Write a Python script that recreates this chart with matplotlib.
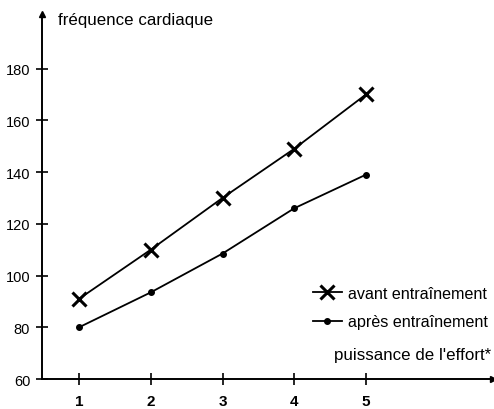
import matplotlib.pyplot as plt

plt.rcParams['font.family'] = ['Liberation Sans', 'DejaVu Sans']

effort = [1, 2, 3, 4, 5]
avant = [91, 110, 130, 149, 170]
apres = [80, 93.5, 108.5, 126, 139]
y_ticks = [60, 80, 100, 120, 140, 160, 180]


def main():
    fig = plt.figure(figsize=(4.94, 4.10), dpi=100)
    ax = fig.add_axes([0.085, 0.073, 0.913, 0.890])
    ax.set_xlim(0.484, 6.77)
    ax.set_ylim(60, 201)

    ax.plot(effort, avant, color='black', lw=1.3, marker='x', ms=10, mew=2.2,
            label='avant entraînement')
    ax.plot(effort, apres, color='black', lw=1.3, marker='o', ms=4,
            label='après entraînement')

    for side in ['top', 'right']:
        ax.spines[side].set_visible(False)
    for side in ['left', 'bottom']:
        ax.spines[side].set_linewidth(1.4)

    # arrow heads on the axes
    ax.plot(0, 1, marker='^', ms=5, color='black', transform=ax.transAxes, clip_on=False)
    ax.plot(1, 0, marker='>', ms=5, color='black', transform=ax.transAxes, clip_on=False)

    ax.set_xticks(effort)
    ax.set_xticklabels([str(v) for v in effort], fontweight='bold', fontsize=11)
    ax.set_yticks(y_ticks)
    ax.set_yticklabels([str(v) for v in y_ticks], fontsize=10.5)
    ax.tick_params(direction='inout', length=9, width=1.2, pad=4)
    ax.tick_params(axis='x', pad=6)

    ax.text(0.035, 0.985, 'fréquence cardiaque', transform=ax.transAxes,
            fontsize=12.2, va='center', ha='left')
    ax.text(0.995, 0.068, "puissance de l'effort*", transform=ax.transAxes,
            fontsize=12.2, va='center', ha='right')

    ax.legend(loc='upper left', bbox_to_anchor=(0.6, 0.255), frameon=False,
              fontsize=11.6, handlelength=1.8, handletextpad=0.4,
              labelspacing=0.82, borderaxespad=0.0, borderpad=0.0)

    fig.savefig('out.png', dpi=100)


if __name__ == '__main__':
    main()
